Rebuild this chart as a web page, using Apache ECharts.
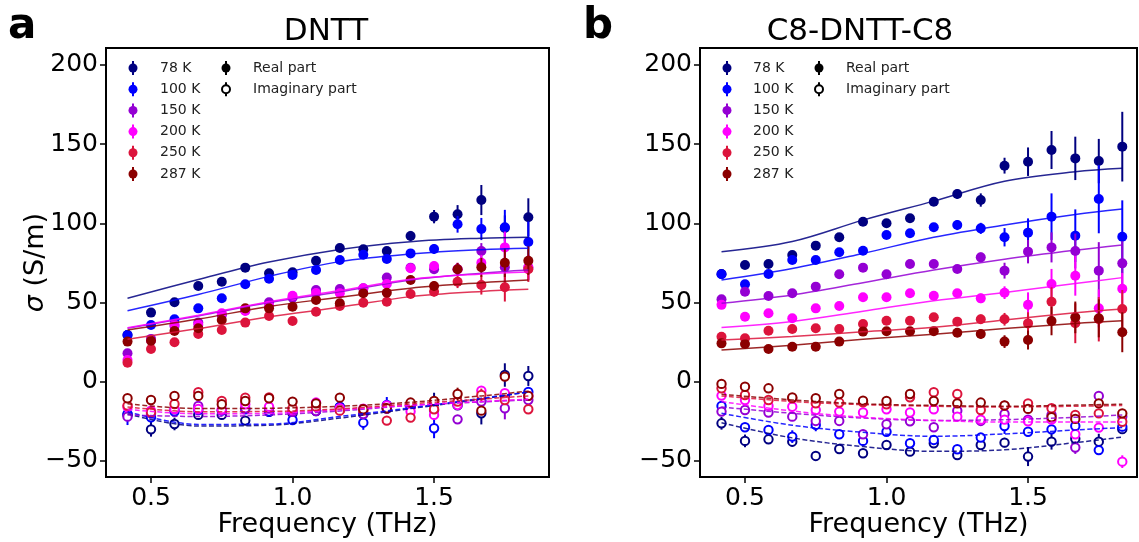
<!DOCTYPE html>
<html>
<head>
<meta charset="utf-8">
<script src="https://cdn.jsdelivr.net/npm/echarts@6/dist/echarts.min.js"></script>
<style>html,body{margin:0;padding:0;background:#fff}#c{width:1139px;height:542px}</style>
</head>
<body>
<div id="c"></div>
<script>
// ---------------- data ----------------
const freq = [0.417,0.5,0.583,0.667,0.75,0.833,0.917,1.0,1.083,1.167,1.25,1.333,1.417,1.5,1.583,1.667,1.75,1.833];
const fitFreq = [0.417,0.667,0.917,1.167,1.417,1.667,1.833];
const tempLabels = ['78 K','100 K','150 K','200 K','250 K','287 K'];
const colors = ['#000080','#0000ff','#9400d3','#ff00ff','#dc143c','#8b0000'];
const yTicks = [-50,0,50,100,150,200];
const xTicks = [0.5,1.0,1.5];
const titles = ['DNTT','C8-DNTT-C8'];
const letters = ['a','b'];

// Panel a (DNTT)
const aReal = [
  [29.5,43.6,50.1,60.4,63.1,72.0,68.4,69.1,76.4,84.4,83.6,82.5,92.0,104.2,105.7,114.7,97,103.8],
  [29.5,35.8,39.4,46.3,52.7,61.5,65.0,67.4,70.5,76.8,80.2,77.5,81.0,83.8,99.4,96.4,97.5,88.2],
  [17.9,27,35.2,37.3,42,45,50.1,53,57.9,58.5,59,65.7,72,71,71,82.5,72.2,72],
  [13.7,26,36,36,43.2,44.6,48,54.3,56,55.8,59.0,61.7,71.6,73.0,71,75.1,84.8,72.2],
  [12.0,20.6,24.9,30.1,32.6,37.3,41.5,38.3,44.2,47.8,49.9,50.5,55.4,56.8,63.1,61.0,59.6,71.0],
  [25.3,25.8,32.0,33.7,38.9,46.3,46.3,47.3,51.6,49.5,55.8,56.2,64.2,60.4,71.0,72.2,75.1,76.4]
];
const aRealErr = [
  [1,1,1,1,1,1,1,1,1,1,1.5,1.5,3.2,4.2,5.8,9.5,8,12],
  [1,1,1,1,1,1,1,1,1,1,1.5,1.5,2.5,3,5.3,7,11,13],
  [1,1,1,1,1,1,1,1,1,1,1.5,1.5,2.5,3,4,5,10,8],
  [1,1,1,1,1,1,1,1,1,1,1.5,1.5,2.5,3,4,5,10,8],
  [1,1,1,1,1,1,1,1,1,1,1.5,1.5,2.5,3,4,6,9,8],
  [1,1,1,1,1,1,1,1,1,1,1.5,1.5,2.5,3,4,6,9,9]
];
const aImag = [
  [-21,-30.1,-26.7,-21,-21,-24.6,-19,-20,-18.5,-16,-20.4,-17,-15,-14,-15,-20,4.2,3.6],
  [-20.4,-22.5,-18.9,-17.9,-18.3,-17.4,-18.9,-24.2,-18.3,-16,-25.9,-14.7,-15.8,-29.4,-14,-12,-9,-6.5],
  [-22.1,-20,-17.5,-15.3,-18,-16.8,-17,-19,-18.5,-18,-20.4,-17,-16,-18,-23.8,-12.6,-16.8,-11.6],
  [-16,-18.3,-17.2,-17.2,-17.4,-14.3,-15.8,-17.9,-13.2,-16.8,-17,-15,-18.9,-21,-14.7,-5.7,-7.3,-9],
  [-15.1,-19.3,-14.1,-6.7,-12.2,-10.1,-9.9,-16.8,-15.8,-18.3,-18.3,-24.6,-22.7,-17.4,-12.6,-8.4,-11.6,-17.4],
  [-10.5,-11.6,-9.0,-9.0,-14.3,-12.2,-10.5,-12.6,-13.7,-10.1,-17.4,-16.8,-13.2,-12.2,-7.8,-18.3,3.2,-9.0]
];
const aImagErr = [
  [2,4.6,4,2,2,2,2,2,2,2,2,2,2,7,2,7,7.4,6.3],
  [7,2,2,2,2,2,2,2,2,2,4.5,5,2,6.3,2,2,2,2],
  [2,2,2,2,2,2,2,2,2,2,2,2,2,2,2,2,7,2],
  [2,2,2,2,2,2,2,2,2,2,2,2,2,2,2,2,2,2],
  [2,2,2,2,2,2,2,2,2,2,2,2,2,2,2,4,2,2],
  [2,2,2,2,2,2,2,2,2,2,2,2,2,2,4,2,2,2]
];
const aRealFit = [
  [52.7,64.5,75.5,83.5,88.4,90.6,91.2],
  [44.8,55.0,66.5,75.8,80.6,83.3,84.2],
  [33.7,41.5,50.0,56.8,64.2,68.5,70.5],
  [34.0,42.0,50.5,57.5,64.6,68.0,69.3],
  [26.8,33.5,41.0,47.0,53.7,57.0,58.3],
  [32.6,39.5,47.5,53.3,59.0,62.5,64.2]
];
const aImagFit = [
  [-20.4,-28,-27.5,-23,-17,-11,-6.5],
  [-19,-27,-26.8,-22,-16.5,-10.5,-6.5],
  [-21,-22,-21,-18.5,-15,-12.8,-11.5],
  [-17.5,-20.3,-20,-17.7,-15,-12.5,-11],
  [-16,-19,-18.8,-17.2,-14,-11,-9],
  [-14,-17,-16.8,-15.5,-13,-9,-6]
];

// Panel b (C8-DNTT-C8)
const bReal = [
  [68,73.7,74.3,80,85.9,91.2,101,100,103.2,113.6,118.5,114.7,136.4,138.9,146.3,141,139.3,148.4],
  [67.8,61.5,68,76.8,76.8,81.7,82.7,92.6,93.7,97.5,98.9,96.8,91.2,94.1,104.2,92.2,115.3,91.5],
  [52,56.8,54.1,55.8,60,67.8,72,67.8,74.3,74.3,71.1,78.5,70.1,82.1,84.8,82.5,70.1,74.7],
  [48.5,41,43.2,40,46.3,47.8,53.3,53.3,55.8,54.3,55.8,52.6,56.2,48.5,61.7,66.9,46.3,58.7],
  [28.4,27.4,32.2,33.3,33.7,33.3,36.4,38.5,38.5,40.7,37.9,39.4,39.4,36.8,50.5,36.9,39.4,45.9],
  [24.2,23.8,20.6,22.1,22.1,25.3,31.6,31.8,31.8,31.9,30.9,30.1,25.3,26.3,38.3,40.6,40,31.2]
];
const bRealErr = [
  [1,1,1,1,1,1,1,1,1,2,3,4.2,5,9,12,13.7,14,22],
  [1,1,1,1,1,1,1,1,1,1,3.2,3.5,5.8,9,14.7,16.6,21.6,23],
  [1,1,1,1,1,1,1,1,1,1,2,3,5,7.4,9.5,11,18,14],
  [1,1,1,1,1,1,1,1,1,1,2,3,4,7.9,9.5,12.6,12,10],
  [1,1,1,1,1,1,1,1,1,1,2,3,4,7,10,12.6,14,12],
  [1,1,1,1,1,1,1,1,1,1,2,3,4,6,9,10,12,12.6]
];
const bImag = [
  [-26.3,-37.4,-36.4,-37.9,-46.9,-42.5,-45.2,-40.0,-44.2,-38.9,-46.3,-40.0,-38.5,-47.3,-37.9,-36,-37.9,-30],
  [-15.3,-28.8,-30.5,-34.7,-27.3,-33.2,-37.4,-31.6,-38.9,-36.8,-42.7,-35.3,-28.0,-31.6,-30.1,-28.0,-43.2,-28.4],
  [-18.9,-17.9,-19.5,-22.1,-24.8,-24.8,-33.2,-26.9,-25,-28.8,-18.3,-24.8,-20.4,-24,-21,-41.6,-9.0,-22],
  [-8.8,-11.6,-15.3,-15.8,-17.9,-18.9,-19.5,-17.4,-19.5,-17.4,-22.1,-24,-24,-25,-24,-33.2,-29.0,-50.5],
  [-4.2,-8.4,-11.6,-10.5,-13.7,-13.2,-13.0,-14.3,-9.9,-6.7,-7.8,-17.9,-15.1,-13.7,-16.8,-21,-20,-25.3],
  [-1.4,-3.2,-4.2,-10,-10.5,-7.8,-12,-12.2,-7.8,-12.2,-13.7,-13.2,-15,-17.2,-22.5,-23.5,-13.7,-20]
];
const bImagErr = [
  [4,4,3,3,3,2,2,2,2,3,2,3,3,6,5,3,5,3],
  [2,2,2,4,4,2,2,2,2,2,2,2,5,2,3,2,2,3],
  [2,2,2,2,2,2,2,2,2,2,2,2,2,2,2,4,2,2],
  [2,2,2,2,2,2,2,2,2,2,2,2,2,2,2,2,2,4],
  [2,2,2,2,2,2,2,2,2,2,2,2,2,2,2,2,2,2],
  [2,2,2,2,2,2,2,2,2,2,2,2,2,2,2,2,2,2]
];
const bRealFit = [
  [82,88.5,102,114,126.5,132.5,134.7],
  [64.2,71.5,81,91.2,98.9,105.5,109],
  [49.5,54.8,62.5,70.5,77.3,83,86.3],
  [34.2,38,44.5,51.1,56.3,62,65.7],
  [26.3,28.5,31.5,34.3,39,43.5,45.9],
  [20,23,26.8,30,33.5,36.8,38.5]
];
const bImagFit = [
  [-26,-35.5,-41,-44,-43,-38.5,-35],
  [-20,-27.5,-32,-34.5,-33,-30.5,-29],
  [-16,-20,-23,-24.5,-24,-22.5,-21],
  [-12.6,-18.5,-22.5,-24.5,-25.5,-25.5,-25.5],
  [-9,-12.5,-14.5,-15.5,-16,-15.5,-15],
  [-8,-11.5,-14,-15,-15.5,-14.8,-14.2]
];

// ---------------- chart ----------------
const FONT = 'DejaVu Sans';
const panels = [
  {real:aReal, realErr:aRealErr, imag:aImag, imagErr:aImagErr, realFit:aRealFit, imagFit:aImagFit,
   grid:{left:106, top:48, width:443, height:429}, xmin:0.341, xmax:1.906, yname:true,
   legX:133, legTX:160, leg2X:226, leg2TX:253, legY:68, titleX:326, letterX:8},
  {real:bReal, realErr:bRealErr, imag:bImag, imagErr:bImagErr, realFit:bRealFit, imagFit:bImagFit,
   grid:{left:700, top:48, width:437, height:429}, xmin:0.341, xmax:1.885, yname:false,
   legX:727, legTX:753, leg2X:819, leg2TX:846, legY:68, titleX:860, letterX:583}
];

function makeRender(color, hollow){
  return function(params, api){
    const x = api.value(0), y = api.value(1), e = api.value(2);
    const c = api.coord([x,y]), t = api.coord([x,y+e]), b = api.coord([x,y-e]);
    return {type:'group', children:[
      {type:'line', shape:{x1:c[0], y1:t[1], x2:c[0], y2:b[1]}, style:{stroke:color, lineWidth:2}},
      {type:'circle', shape:{cx:c[0], cy:c[1], r: hollow ? 4.2 : 5},
       style: hollow ? {fill:'#fff', stroke:color, lineWidth:2} : {fill:color}}
    ]};
  };
}

const grids = [], xAxes = [], yAxes = [], series = [], graphics = [];
panels.forEach((p, pi) => {
  grids.push(Object.assign({show:true, borderColor:'#000', borderWidth:2, backgroundColor:'#fff',
    containLabel:false, outerBoundsMode:'none'}, p.grid));
  xAxes.push({
    type:'value', gridIndex:pi, min:p.xmin, max:p.xmax,
    name:'Frequency (THz)', nameLocation:'middle', nameGap:34, nameMoveOverlap:false,
    nameTextStyle:{fontFamily:FONT, fontSize:27, color:'#000'},
    axisLine:{show:true, onZero:false, lineStyle:{color:'#000', width:2}}, splitLine:{show:false},
    axisTick:{show:true, customValues:xTicks, length:6, lineStyle:{color:'#000', width:1.5}},
    axisLabel:{customValues:xTicks, formatter:v=>Number(v).toFixed(1), fontFamily:FONT, fontSize:25, color:'#000', margin:9}
  });
  yAxes.push({
    type:'value', gridIndex:pi, min:-60.2, max:210.7,
    name: p.yname ? '{i|σ} (S/m)' : '', nameLocation:'middle', nameGap:57, nameRotate:90, nameMoveOverlap:false,
    nameTextStyle:{fontFamily:FONT, fontSize:27, color:'#000', rich:{i:{fontFamily:FONT, fontSize:27, fontStyle:'italic', color:'#000'}}},
    axisLine:{show:true, onZero:false, lineStyle:{color:'#000', width:2}}, splitLine:{show:false},
    axisTick:{show:true, customValues:yTicks, length:6, lineStyle:{color:'#000', width:1.5}},
    axisLabel:{customValues:yTicks, formatter:v=> v<0 ? '\u2212'+Math.abs(v) : String(v), fontFamily:FONT, fontSize:25, color:'#000', margin:8}
  });
  for (let i = 0; i < 6; i++) {
    const col = colors[i];
    series.push({
      type:'custom', xAxisIndex:pi, yAxisIndex:pi, clip:true, silent:true,
      renderItem: makeRender(col, false),
      encode:{x:0, y:1},
      data: freq.map((f,k)=>[f, p.real[i][k], p.realErr[i][k]])
    });
    series.push({
      type:'custom', xAxisIndex:pi, yAxisIndex:pi, clip:true, silent:true,
      renderItem: makeRender(col, true),
      encode:{x:0, y:1},
      data: freq.map((f,k)=>[f, p.imag[i][k], p.imagErr[i][k]])
    });
    series.push({
      type:'line', xAxisIndex:pi, yAxisIndex:pi, smooth:0.35, showSymbol:false, silent:true,
      lineStyle:{color:col, width:1.5, opacity:0.85},
      data: fitFreq.map((f,k)=>[f, p.realFit[i][k]])
    });
    series.push({
      type:'line', xAxisIndex:pi, yAxisIndex:pi, smooth:0.35, showSymbol:false, silent:true,
      lineStyle:{color:col, width:1.5, opacity:0.85, type:[5,2.5]},
      data: fitFreq.map((f,k)=>[f, p.imagFit[i][k]])
    });
    // legend row
    const ly = p.legY + i*21.2;
    graphics.push({type:'line', shape:{x1:p.legX, y1:ly-7, x2:p.legX, y2:ly+7}, style:{stroke:col, lineWidth:2}, z:100});
    graphics.push({type:'circle', shape:{cx:p.legX, cy:ly, r:4.5}, style:{fill:col}, z:100});
    graphics.push({type:'text', x:p.legTX, y:ly, style:{text:tempLabels[i], font:'14px "DejaVu Sans"', fill:'#222', textVerticalAlign:'middle'}, z:100});
  }
  // type legend
  const y1 = p.legY, y2 = p.legY + 21.2;
  graphics.push({type:'line', shape:{x1:p.leg2X, y1:y1-7, x2:p.leg2X, y2:y1+7}, style:{stroke:'#000', lineWidth:2}, z:100});
  graphics.push({type:'circle', shape:{cx:p.leg2X, cy:y1, r:4.5}, style:{fill:'#000'}, z:100});
  graphics.push({type:'text', x:p.leg2TX, y:y1, style:{text:'Real part', font:'14px "DejaVu Sans"', fill:'#222', textVerticalAlign:'middle'}, z:100});
  graphics.push({type:'line', shape:{x1:p.leg2X, y1:y2-7, x2:p.leg2X, y2:y2+7}, style:{stroke:'#000', lineWidth:2}, z:100});
  graphics.push({type:'circle', shape:{cx:p.leg2X, cy:y2, r:4}, style:{fill:'#fff', stroke:'#000', lineWidth:2}, z:101});
  graphics.push({type:'text', x:p.leg2TX, y:y2, style:{text:'Imaginary part', font:'14px "DejaVu Sans"', fill:'#222', textVerticalAlign:'middle'}, z:100});
  // title and letter
  graphics.push({type:'text', x:p.titleX, y:32, style:{text:titles[pi], font:'31px "DejaVu Sans"', fill:'#000', textAlign:'center', textVerticalAlign:'middle'}, z:100});
  graphics.push({type:'text', x:p.letterX, y:27, style:{text:letters[pi], font:'bold 42px "DejaVu Sans"', fill:'#000', textVerticalAlign:'middle'}, z:100});
});

const chart = echarts.init(document.getElementById('c'), null, {renderer:'canvas'});
chart.setOption({
  backgroundColor:'#fff',
  animation:false,
  grid: grids, xAxis: xAxes, yAxis: yAxes, series: series,
  graphic: graphics
});
</script>
</body>
</html>
